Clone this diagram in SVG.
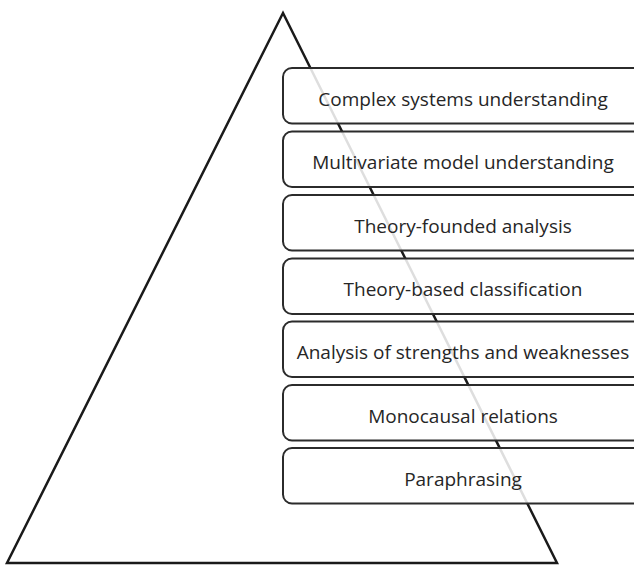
<svg xmlns="http://www.w3.org/2000/svg" width="634" height="565" viewBox="0 0 634 565">
  <style>
    .level rect { fill: #ffffff; fill-opacity: 0.86; stroke: #2b2b2b; stroke-width: 2; }
    .level text { font-family: "Open Sans", "Liberation Sans", sans-serif; font-size: 19px; fill: #262626; text-anchor: middle; }
    .pyramid { fill: none; stroke: #1a1a1a; stroke-width: 2.5; stroke-linejoin: miter; }
  </style>
  <rect width="634" height="565" fill="#ffffff"/>

  <!-- outer pyramid -->
  <g id="connectors">
    <polygon class="pyramid" points="283,13 7,563 557,563"/>
  </g>

  <!-- competence levels, top to bottom -->
  <g id="level-7" class="level">
    <rect x="283" y="68" width="362" height="55.5" rx="9"/>
    <text x="463" y="105.5">Complex systems understanding</text>
  </g>
  <g id="level-6" class="level">
    <rect x="283" y="131.5" width="362" height="55.5" rx="9"/>
    <text x="463" y="169">Multivariate model understanding</text>
  </g>
  <g id="level-5" class="level">
    <rect x="283" y="195" width="362" height="55.5" rx="9"/>
    <text x="463" y="232.5">Theory-founded analysis</text>
  </g>
  <g id="level-4" class="level">
    <rect x="283" y="258.5" width="362" height="55.5" rx="9"/>
    <text x="463" y="296">Theory-based classification</text>
  </g>
  <g id="level-3" class="level">
    <rect x="283" y="321.5" width="362" height="55.5" rx="9"/>
    <text x="463" y="359">Analysis of strengths and weaknesses</text>
  </g>
  <g id="level-2" class="level">
    <rect x="283" y="385" width="362" height="55.5" rx="9"/>
    <text x="463" y="422.5">Monocausal relations</text>
  </g>
  <g id="level-1" class="level">
    <rect x="283" y="448" width="362" height="55.5" rx="9"/>
    <text x="463" y="485.5">Paraphrasing</text>
  </g>
</svg>
